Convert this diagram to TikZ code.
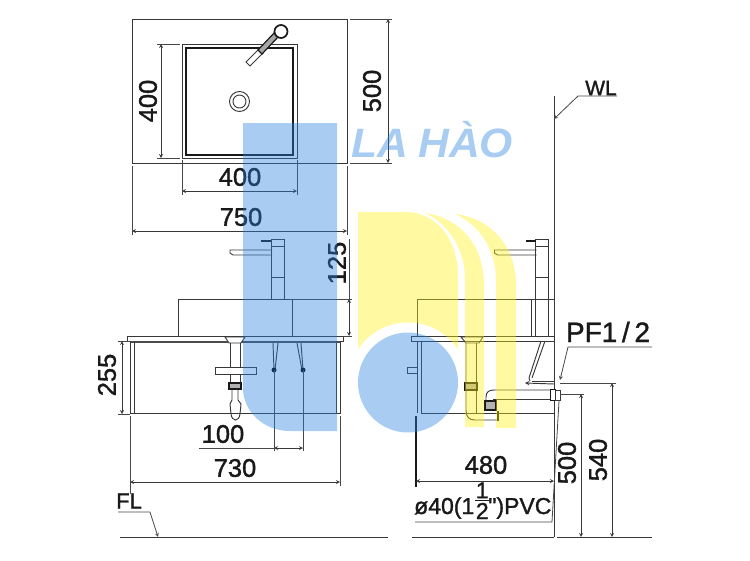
\documentclass[tikz,border=0pt]{standalone}
\usepackage{fontspec}
\setmainfont{Liberation Sans}
\newfontfamily\dimfont[RawFeature={embolden=1.4}]{Liberation Sans}
\tikzset{
    part/.style={draw=black!78, line width=0.95pt},
    heavy/.style={draw=black!90, line width=1.7pt},
    dimline/.style={draw=black!78, line width=0.8pt, <->, >=stealth},
    extline/.style={draw=black!72, line width=0.8pt},
    dimtext/.style={font=\dimfont\fontsize{25.5}{25.5}\selectfont, text=black!90, inner sep=0pt},
    wmblue/.style={fill={rgb,255:red,40;green,130;blue,222}, opacity=0.4},
    wmyellow/.style={fill={rgb,255:red,255;green,240;blue,20}, opacity=0.4}
}
\begin{document}
\begin{tikzpicture}[x=1pt, y=-1pt]
    \useasboundingbox (0, 0) rectangle (750, 560);

    % top view
    \draw[part] (132, 19) rectangle (347, 163);
    \draw[part] (182, 44) rectangle (297, 158);
    \draw[heavy] (186, 48) rectangle (293, 155);
    \draw[part] (239.5, 101.5) circle (10pt);
    \draw[part] (239.5, 101.5) circle (6.5pt);
    \draw[part, fill=white] (246, 62) -- (250, 66) -- (263, 53) -- (259, 49) -- cycle;
    \draw[heavy, fill=black!35, line width=1.2pt] (258, 50) -- (262, 54) -- (279, 36) -- (275, 32) -- cycle;
    \draw[heavy, fill=white] (281, 31.5) circle (6.5pt);

    \draw[extline] (157, 44) -- (180, 44);
    \draw[extline] (157, 158) -- (180, 158);
    \draw[dimline] (161, 44) -- (161, 158);
    \node[dimtext, rotate=90] (widthA) at (148, 101) {400};
    \draw[extline] (350, 19) -- (392, 19);
    \draw[extline] (350, 163) -- (392, 163);
    \draw[dimline] (388, 19) -- (388, 163);
    \node[dimtext, rotate=90] (depthA) at (372, 91) {500};
    \draw[extline] (182, 160) -- (182, 195);
    \draw[extline] (297, 160) -- (297, 195);
    \draw[dimline] (182, 191) -- (297, 191);
    \node[dimtext] (widthB) at (240, 177) {400};
    \draw[extline] (132, 166) -- (132, 235);
    \draw[extline] (347, 166) -- (347, 235);
    \draw[dimline] (132, 231) -- (347, 231);
    \node[dimtext] (widthC) at (241, 217) {750};

    % tap, same in front and side view
    \foreach \dx in {0, 264.5} {
        \draw[part] (271 + \dx, 299) -- (271 + \dx, 239) -- (284 + \dx, 239) -- (284 + \dx, 299);
        \draw[part] (271 + \dx, 246) -- (284 + \dx, 246);
        \draw[part] (271 + \dx, 277) -- (284 + \dx, 277);
        \draw[part] (272 + \dx, 250) -- (230 + \dx, 250) -- (230 + \dx, 253) -- (233 + \dx, 255) -- (272 + \dx, 255);
        \draw[heavy] (261 + \dx, 241) -- (271 + \dx, 241);
    }

    % front view
    \draw[part] (127, 336) rectangle (343, 341);
    \draw[part] (178, 336) -- (178, 299) -- (292, 299) -- (292, 336);
    \draw[heavy, draw=black!70] (130, 342) -- (340, 342);
    \draw[part] (130, 341) -- (130, 413) -- (340, 413) -- (340, 341);
    \draw[part] (134, 341) -- (134, 413);
    \draw[part] (336, 341) -- (336, 413);
    \draw[part, fill=white] (225, 337) -- (245, 337) -- (241, 343) -- (229, 343) -- cycle;
    \draw[part] (230, 343) -- (230, 383);
    \draw[part] (240, 343) -- (240, 383);
    \draw[part, fill=white] (215, 367) rectangle (256, 374);
    \draw[heavy, fill=black!30] (229, 383) rectangle (241, 389);
    \draw[part] (232, 389) -- (232, 400) -- (230, 404) -- (231, 414) .. controls (232, 422) and (239, 422) .. (240, 414) -- (241, 404) -- (238, 400) -- (238, 389);
    \draw[part] (273, 343) -- (274, 370);
    \draw[part] (278, 343) -- (275, 370);
    \draw[part] (297, 343) -- (302, 370);
    \draw[part] (301, 343) -- (303, 370);
    \fill[black] (274, 370) circle (2.5pt);
    \fill[black] (303, 370) circle (2.5pt);

    \draw[extline] (118, 341) -- (130, 341);
    \draw[extline] (118, 414) -- (130, 414);
    \draw[dimline] (122, 341) -- (122, 414);
    \node[dimtext, rotate=90] (heightA) at (107, 375) {255};
    \draw[extline] (292, 299) -- (352, 299);
    \draw[extline] (343, 336) -- (352, 336);
    \draw[extline] (349, 239) -- (349, 299);
    \draw[dimline] (349, 299) -- (349, 336);
    \node[dimtext, rotate=90] (heightB) at (337, 263) {125};
    \draw[extline] (274, 370) -- (274, 451);
    \draw[extline] (303, 370) -- (303, 451);
    \draw[extline] (199, 448) -- (274, 448);
    \draw[dimline] (274, 448) -- (303, 448);
    \node[dimtext] (gapA) at (223, 434) {100};
    \draw[extline] (130, 416) -- (130, 494);
    \draw[extline] (340, 416) -- (340, 486);
    \draw[dimline] (130, 482) -- (340, 482);
    \node[dimtext] (widthD) at (235, 468) {730};

    % floor
    \node[dimtext, font=\dimfont\fontsize{22}{22}\selectfont, anchor=west] (floorFL) at (116, 501) {FL};
    \draw[extline, ->, >=stealth] (118, 512) -- (150, 512) -- (158, 537);
    \draw[part] (120, 537) -- (388, 537);
    \draw[part] (412, 537) -- (554, 537);
    \draw[part] (557, 537) -- (652, 537);

    % side view
    \draw[part] (554, 96) -- (554, 537);
    \draw[extline, ->, >=stealth] (617, 96) -- (578, 96) -- (554, 119);
    \node[dimtext, font=\dimfont\fontsize{21}{21}\selectfont] (wallWL) at (601, 88) {WL};
    \draw[part] (411, 336) rectangle (554, 341);
    \draw[part] (417, 336) -- (417, 299) -- (554, 299);
    \draw[part] (531, 299) -- (531, 336);
    \draw[part] (535.5, 299) -- (535.5, 336);
    \draw[part] (548.5, 299) -- (548.5, 336);
    \draw[part] (417, 341) -- (417, 413);
    \draw[part] (421.5, 341) -- (421.5, 413) -- (554, 413);
    \draw[part] (417, 367) -- (407, 367) -- (407, 373) -- (417, 373);
    \draw[heavy, line width=2.4pt] (416, 416) -- (416, 487);
    \draw[part] (461, 337) -- (483, 337) -- (479, 343) -- (466, 343) -- cycle;
    \draw[part] (466, 343) -- (466, 410) .. controls (466, 417) and (469, 420) .. (475, 420) -- (497, 420);
    \draw[part] (476, 343) -- (476, 413) -- (485, 413);
    \draw[heavy, fill=black!30] (465, 383) rectangle (477, 390);
    \draw[heavy, fill=black!30] (485, 401) rectangle (496, 410);
    \draw[heavy] (498, 411) -- (498, 421);
    \draw[part] (486, 401) -- (486, 397) .. controls (486, 392) and (489, 390) .. (494, 390) -- (550, 390);
    \draw[part] (493, 401) -- (493, 399) -- (550, 399);
    \draw[heavy, fill=white, line width=1pt] (550, 389) rectangle (555, 400);
    \draw[part, fill=white] (555, 390) rectangle (560, 400);
    % bracket under the top
    \draw[part] (541, 341) -- (529, 378);
    \draw[part] (545, 341) -- (532, 378);
    \draw[part] (529, 378) -- (530, 381);
    \draw[part] (532, 381) -- (554, 381);
    \draw[part, ->, >=stealth] (554, 384) -- (525, 383);

    % dimensions of the side view
    \draw[extline, ->, >=stealth] (652, 347) -- (568, 347) -- (560, 380);
    \node[dimtext, font=\dimfont\fontsize{28}{28}\selectfont] (pipePF) at (608, 332) {PF1\,/\,2};
    \draw[extline] (560, 383) -- (616, 383);
    \draw[dimline] (612, 383) -- (612, 537);
    \node[dimtext, rotate=90] (heightC) at (598, 460) {540};
    \draw[extline] (560, 394) -- (584, 394);
    \draw[dimline] (581, 394) -- (581, 537);
    \node[dimtext, rotate=90] (heightD) at (567, 463) {500};
    \draw[dimline] (416, 481) -- (554, 481);
    \node[dimtext] (widthE) at (486, 465) {480};
    \draw[extline] (415, 522) -- (552, 522) -- (559, 401);
    \node[dimtext, anchor=base west, font=\dimfont\fontsize{23}{23}\selectfont] (pipePVC) at (414, 514)
        {ø40(1\kern1pt\raisebox{-5pt}{\shortstack{1\\[-1pt]\rule{14pt}{0.7pt}\\[-1pt]2}}\kern-1pt")PVC};

    % watermark on top of the drawing
    \fill[wmblue] (243, 123) -- (337, 123) -- (337, 431) -- (290, 431) .. controls (264, 431) and (243, 412) .. (243, 388) -- cycle;
    \fill[wmblue] (408, 382.5) circle (50pt);
    \fill[wmyellow] (358, 212) -- (405, 212) .. controls (437, 212) and (458, 240) .. (458, 275) -- (458, 349) .. controls (445, 331) and (428, 322.5) .. (408, 322.5) .. controls (388, 322.5) and (371, 331) .. (358, 349) -- cycle;
    \fill[wmyellow] (425, 213) .. controls (460, 218) and (484, 245) .. (484, 285) -- (484, 427) -- (465, 427) -- (465, 280) .. controls (465, 245) and (445, 222) .. (425, 213) -- cycle;
    \fill[wmyellow] (455, 214) .. controls (490, 218) and (516, 245) .. (516, 285) -- (516, 428) -- (496, 428) -- (496, 280) .. controls (496, 250) and (480, 225) .. (455, 214) -- cycle;
    \node[anchor=base west, inner sep=0pt, xscale=1.04, font=\fontsize{41}{41}\selectfont\bfseries\itshape, text={rgb,255:red,40;green,130;blue,222}, text opacity=0.4] (markLH) at (351, 157) {LA\hspace{10pt}HÀO};
\end{tikzpicture}
\end{document}
